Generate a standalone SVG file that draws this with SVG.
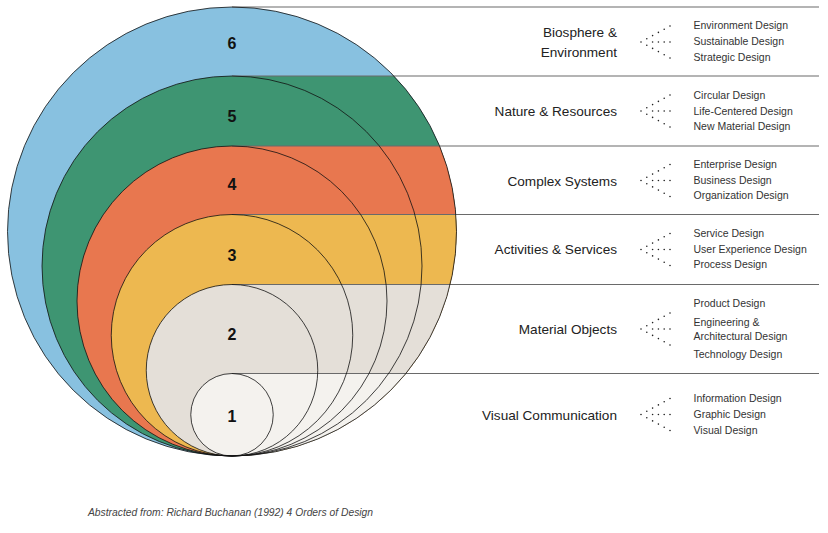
<svg xmlns="http://www.w3.org/2000/svg" width="828" height="533" viewBox="0 0 828 533">
<style>
.num{font-family:"Liberation Sans",Arial,sans-serif;font-weight:bold;font-size:16px;fill:#111;text-anchor:middle}
.lab{font-family:"Liberation Sans",Arial,sans-serif;font-size:13.6px;fill:#222;text-anchor:end}
.sub{font-family:"Liberation Sans",Arial,sans-serif;font-size:10.5px;fill:#333}
.ring{fill:none;stroke:#111;stroke-width:0.8}
.rule{stroke:#6a6a6a;stroke-width:1.2;fill:none}
.foot{font-family:"Liberation Sans",Arial,sans-serif;font-style:italic;font-size:10.3px;fill:#444}
</style>
<defs>
<g id="fan" fill="#222">
<circle cx="0" cy="0" r="0.8"/>
<circle cx="5.8" cy="-3.2" r="0.8"/><circle cx="11.6" cy="-6.4" r="0.8"/><circle cx="17.4" cy="-9.6" r="0.8"/><circle cx="23.2" cy="-12.8" r="0.8"/><circle cx="29" cy="-16" r="0.8"/>
<circle cx="11.6" cy="0" r="0.8"/><circle cx="17.4" cy="0" r="0.8"/><circle cx="23.2" cy="0" r="0.8"/><circle cx="29" cy="0" r="0.8"/>
<circle cx="5.8" cy="3.2" r="0.8"/><circle cx="11.6" cy="6.4" r="0.8"/><circle cx="17.4" cy="9.6" r="0.8"/><circle cx="23.2" cy="12.8" r="0.8"/><circle cx="29" cy="16" r="0.8"/>
</g>
</defs>

<g id="order-6">
<circle cx="232" cy="231.5" r="224.5" fill="#88C1E0"/>
<text class="num" x="232" y="49.3">6</text>
</g>
<g id="order-5" fill="#3E9572">
<path d="M232,76 H393.9 A224.5,224.5 0 0 1 232,456 Z"/>
<circle cx="232" cy="266" r="190"/>
<text class="num" x="232" y="121.7">5</text>
</g>
<g id="order-4" fill="#E8774F">
<path d="M232,146 H439.6 A224.5,224.5 0 0 1 232,456 Z"/>
<circle cx="232" cy="301" r="155"/>
<text class="num" x="232" y="190">4</text>
</g>
<g id="order-3" fill="#EDB850">
<path d="M232,214.5 H455.9 A224.5,224.5 0 0 1 232,456 Z"/>
<circle cx="232" cy="335.25" r="120.75"/>
<text class="num" x="232" y="260.7">3</text>
</g>
<g id="order-2" fill="#E4DFD8">
<path d="M232,284.5 H450.2 A224.5,224.5 0 0 1 232,456 Z"/>
<circle cx="232" cy="370.25" r="85.75"/>
<text class="num" x="232" y="340">2</text>
</g>
<g id="order-1" fill="#F4F2EE">
<path d="M232,373.5 H405.9 A224.5,224.5 0 0 1 232,456 Z"/>
<circle cx="232" cy="414.75" r="41.25"/>
<text class="num" x="232" y="422.3">1</text>
</g>

<g id="connectors">
<line class="rule" x1="232" y1="7" x2="819" y2="7"/>
<line class="rule" x1="232" y1="76" x2="819" y2="76"/>
<line class="rule" x1="232" y1="146" x2="819" y2="146"/>
<line class="rule" x1="232" y1="214.5" x2="819" y2="214.5"/>
<line class="rule" x1="232" y1="284.5" x2="819" y2="284.5"/>
<line class="rule" x1="232" y1="373.5" x2="819" y2="373.5"/>
<use href="#fan" x="641" y="42"/>
<use href="#fan" x="641" y="111"/>
<use href="#fan" x="641" y="180.5"/>
<use href="#fan" x="641" y="249.5"/>
<use href="#fan" x="641" y="329"/>
<use href="#fan" x="641" y="414.5"/>
</g>

<g id="outlines">
<circle class="ring" cx="232" cy="231.5" r="224.5"/>
<circle class="ring" cx="232" cy="266" r="190"/>
<circle class="ring" cx="232" cy="301" r="155"/>
<circle class="ring" cx="232" cy="335.25" r="120.75"/>
<circle class="ring" cx="232" cy="370.25" r="85.75"/>
<circle class="ring" cx="232" cy="414.75" r="41.25"/>
</g>

<g id="label-6">
<text class="lab" x="617" y="36.7">Biosphere &amp;</text>
<text class="lab" x="617" y="56.7">Environment</text>
<text class="sub" x="693.5" y="29.3">Environment Design</text>
<text class="sub" x="693.5" y="45">Sustainable Design</text>
<text class="sub" x="693.5" y="61">Strategic Design</text>
</g>
<g id="label-5">
<text class="lab" x="617" y="115.5">Nature &amp; Resources</text>
<text class="sub" x="693.5" y="99">Circular Design</text>
<text class="sub" x="693.5" y="114.5">Life-Centered Design</text>
<text class="sub" x="693.5" y="130.3">New Material Design</text>
</g>
<g id="label-4">
<text class="lab" x="617" y="185.7">Complex Systems</text>
<text class="sub" x="693.5" y="167.7">Enterprise Design</text>
<text class="sub" x="693.5" y="183.5">Business Design</text>
<text class="sub" x="693.5" y="199.3">Organization Design</text>
</g>
<g id="label-3">
<text class="lab" x="617" y="254">Activities &amp; Services</text>
<text class="sub" x="693.5" y="236.7">Service Design</text>
<text class="sub" x="693.5" y="252.5">User Experience Design</text>
<text class="sub" x="693.5" y="268.3">Process Design</text>
</g>
<g id="label-2">
<text class="lab" x="617" y="334">Material Objects</text>
<text class="sub" x="693.5" y="306.7">Product Design</text>
<text class="sub" x="693.5" y="325.7">Engineering &amp;</text>
<text class="sub" x="693.5" y="339.5">Architectural Design</text>
<text class="sub" x="693.5" y="358.3">Technology Design</text>
</g>
<g id="label-1">
<text class="lab" x="617" y="420">Visual Communication</text>
<text class="sub" x="693.5" y="401.7">Information Design</text>
<text class="sub" x="693.5" y="417.7">Graphic Design</text>
<text class="sub" x="693.5" y="434">Visual Design</text>
</g>

<text class="foot" x="88" y="516">Abstracted from: Richard Buchanan (1992) 4 Orders of Design</text>
</svg>
